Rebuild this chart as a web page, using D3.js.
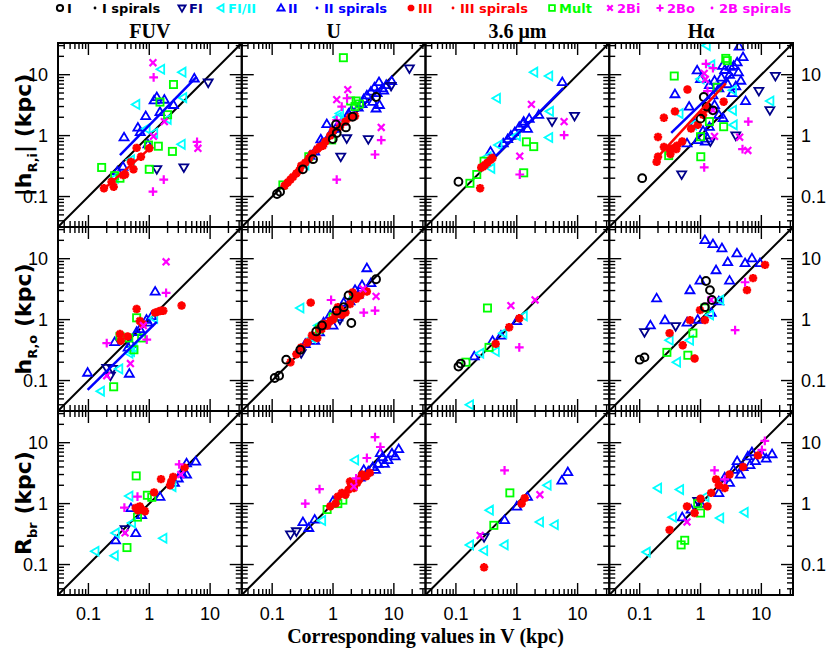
<!DOCTYPE html>
<html><head><meta charset="utf-8">
<script src="https://cdn.jsdelivr.net/npm/d3@7"></script>
<style>body{margin:0;background:#fff}svg{display:block}</style>
</head><body>
<svg id="c" width="830" height="651"></svg>
<script>
// ---------------- DATA ----------------
const bandNames = ["FUV", "U", "3.6 μm", "Hα"];
const rowTitleMain = ["|h", "h", "R"];
const rowTitleSub = ["R,i", "R,o", "br"];
const rowTitleTail = ["| (kpc)", " (kpc)", " (kpc)"];
const xTitle = "Corresponding values in V (kpc)";
const tickValues = [0.1, 1, 10];
const tickLabels = ["0.1", "1", "10"];
const legendKeys = ["I", "Isp", "FI", "FIII", "II", "IIsp", "III", "IIIsp", "Mult", "2Bi", "2Bo", "2Bsp"];
const legendLabels = ["I", "I spirals", "FI", "FI/II", "II", "II spirals", "III", "III spirals", "Mult", "2Bi", "2Bo", "2B spirals"];

// each point: [type, value in V (kpc), value in band (kpc)]
const hRi_FUV = [
 ["2Bi",1.15,15.7],["FIII",1.56,12.3],["2Bo",1.18,9.0],["FIII",3.5,11],["FI",9.3,7.4],["II",5.5,8.7],
 ["Mult",2.5,6.9],["II",1.33,4.3],["II",1.2,3.8],["II",1.77,3.9],["Mult",1.5,3.55],["FIII",0.61,3.25],
 ["FIII",3.6,4.2],["II",2.5,3.2],["II",1.5,2.45],["Mult",2.0,2.2],["II",0.875,2.1],["2Bi",1.77,1.7],
 ["FIII",2.0,1.85],["II",0.65,1.36],["II",0.385,0.94],["II",0.71,1.15],["FIII",0.9,1.3],["FIII",1.2,1.1],
 ["2Bi",1.17,0.97],["Mult",1.41,0.67],["Mult",0.97,0.7],["II",0.95,0.72],["FIII",3.4,0.72],["Mult",2.4,0.55],
 ["2Bo",6.1,0.79],["2Bi",6.3,0.62],["FI",3.7,0.30],["FI",1.33,0.28],["Mult",1.0,0.28],["Mult",0.165,0.30],
 ["2Bo",1.73,0.19],["2Bo",1.15,0.12],
 ["III",0.18,0.137],["III",0.24,0.175],["III",0.26,0.145],["III",0.37,0.225],["III",0.4,0.23],["III",0.5,0.37],
 ["III",0.55,0.28],["III",0.62,0.63],["III",0.73,0.45],["III",1.0,0.62],
 ["FIII",0.27,0.2],["FIII",0.5,0.4],["Mult",0.27,0.22],["Mult",0.33,0.2],["II",0.3,0.26],["II",0.37,0.31]
];
const hRi_U = [
 ["Mult",1.48,19],["FI",18,12.6],
 ["II",5.7,7.6],["II",9.2,7.9],["FI",9.0,6.5],["II",4.8,6.2],["II",6.5,6.0],["II",7.5,6.8],["II",4.2,5.3],
 ["II",5.3,5.0],["II",3.6,4.6],["II",6.8,5.5],["II",3.2,4.0],["II",4.5,3.6],["II",5.8,3.2],["II",3.0,3.3],
 ["II",2.6,2.9],["II",5.1,2.8],["I",5.1,4.3],["2Bi",1.75,5.7],["2Bi",1.15,3.9],["2Bo",1.7,4.1],["2Bo",1.39,3.0],
 ["Mult",1.95,3.7],["Mult",2.4,3.7],["Mult",2.7,3.3],["Mult",2.3,3.0],
 ["I",2.1,2.04],["FIII",1.3,2.3],["FIII",1.2,2.0],["2Bo",1.15,1.8],["II",0.79,1.55],["I",1.12,1.53],
 ["I",1.63,1.36],["I",1.15,1.1],["I",0.99,0.88],["II",0.63,0.87],["FI",1.68,0.9],["2Bi",6.2,1.36],
 ["2Bo",6.2,0.84],["FI",3.8,0.87],["2Bo",4.9,0.49],["FI",1.34,0.45],["I",0.47,0.41],["I",0.32,0.28],
 ["Mult",0.15,0.155],["I",0.135,0.12],["I",0.12,0.11],["2Bo",1.15,0.19],
 ["III",0.16,0.15],["III",0.18,0.17],["III",0.2,0.19],["III",0.22,0.21],["III",0.25,0.24],["III",0.28,0.27],
 ["III",0.3,0.32],["III",0.35,0.36],["III",0.4,0.42],["III",0.45,0.5],["III",0.55,0.6],["III",0.6,0.65],
 ["III",0.68,0.68],["III",0.75,0.8],["III",0.9,1.0],["III",1.0,1.2],["III",1.3,1.4],["III",1.6,1.7],
 ["III",1.9,2.0],["III",2.3,2.1],["II",0.5,0.55],["II",0.42,0.47],["II",0.65,0.75],["II",0.9,1.05],
 ["II",1.1,1.3],["II",1.4,1.7],["II",1.8,2.3],["II",2.0,2.6],["FIII",0.35,0.33],["Mult",0.95,0.85],["Mult",0.4,0.45]
];
const hRi_36 = [
 ["FIII",1.93,11],["FIII",3.4,9.5],["II",5.6,7.6],["FIII",0.47,4.1],["2Bi",1.74,3.25],["FIII",3.5,2.5],
 ["FI",3.8,1.7],["FI",8.9,2.1],["2Bi",6.0,1.7],["2Bo",6.0,1.02],["FIII",3.4,0.93],["Mult",1.44,0.79],
 ["Mult",1.9,0.66],["2Bi",1.12,0.46],["Mult",1.3,0.245],["2Bo",1.12,0.23],["FIII",0.38,0.29],["Mult",0.29,0.38],
 ["Mult",0.22,0.23],["Mult",0.17,0.165],["I",0.11,0.175],["III",0.25,0.137],
 ["III",0.26,0.3],["III",0.3,0.33],["III",0.33,0.36],["III",0.37,0.4],["III",0.4,0.43],["III",0.28,0.31],
 ["II",0.37,0.55],["II",0.71,0.88],["II",0.93,1.15],["II",1.27,1.58],["II",1.5,1.3],["II",2.3,2.2],
 ["II",1.1,1.4],["II",1.3,1.7],["II",0.6,0.75],["II",0.8,1.0],["II",1.6,1.9],
 ["FIII",0.5,0.7],["FIII",1.0,1.0],["FIII",0.33,0.45]
];
const hRi_Ha = [
 ["FIII",1.26,30],["II",4.3,29],["Mult",2.6,18.5],["Mult",2.75,17],["II",5.0,19.5],["II",2.3,14],
 ["2Bo",1.23,15],["2Bo",1.6,12.8],["FIII",1.5,14.5],["II",0.88,11.8],["2Bi",1.15,10.5],["II",1.0,8.5],
 ["2Bi",1.2,8.4],["2Bo",1.3,5.4],["Mult",0.37,9.5],["FIII",1.0,8.5],
 ["II",2.5,12],["II",3.0,10],["II",3.5,14],["II",4.2,11],["II",4.6,8],["II",2.2,9],["II",2.8,7],["II",3.8,6.5],
 ["II",1.7,8],["II",2.0,6],["II",1.4,6.8],["II",1.6,4.6],["II",3.1,13.5],["II",4.0,16],["II",3.3,5],
 ["FI",17,9.5],["FI",9.1,5.4],["FIII",3.4,5.55],["II",5.5,3.7],["FIII",14,3.7],["FI",13.8,2.6],
 ["III",0.61,5.7],["II",0.38,4.8],["I",1.13,4.3],["II",0.65,3.0],["III",0.38,2.5],["FIII",0.45,2.3],
 ["III",0.25,1.96],["III",2.4,3.6],["I",1.26,3.0],["2Bi",1.6,2.6],["I",1.6,2.6],["I",1.0,1.9],["Mult",1.88,6.2],
 ["Mult",1.4,1.7],["Mult",2.4,1.4],["II",2.35,1.95],["FIII",3.4,2.6],["FIII",3.5,1.5],["2Bo",6.1,1.7],
 ["FI",3.8,1.0],["2Bi",4.4,0.94],["2Bo",4.9,0.6],["2Bi",6.0,0.57],["Mult",1.0,0.96],["2Bi",1.7,0.97],
 ["Mult",1.01,0.45],["2Bo",1.15,0.30],["FI",0.49,0.23],["I",0.11,0.20],
 ["III",0.2,0.95],["III",0.25,0.65],["III",0.2,0.45],["III",0.19,0.37],["III",0.31,0.6],["III",0.36,0.62],
 ["III",0.4,0.6],["III",0.41,0.68],["III",0.32,0.5],["III",0.5,0.8],["III",0.7,1.3],["III",1.1,2.2],
 ["III",1.3,2.8],["III",0.9,1.5],["Mult",0.3,0.47],["II",0.9,0.85],["II",1.2,0.8],["II",1.3,0.9],
 ["FI",1.45,0.8],["II",0.6,0.75],["II",1.1,1.2],["II",1.4,1.4],["II",0.8,1.6],["II",2.0,2.2],["II",1.7,3.2],["FIII",0.75,1.5]
];
const hRo_FUV = [
 ["2Bi",1.89,8.9],["II",1.25,2.9],["2Bo",1.89,2.75],["III",3.4,1.7],["III",0.62,1.49],["III",1.25,1.3],
 ["III",1.4,1.35],["III",1.55,1.4],["III",1.7,1.4],["Mult",0.62,1.07],["III",0.7,0.95],["III",0.78,0.85],
 ["2Bi",0.8,0.8],["II",0.9,1.0],["II",0.95,0.9],["II",0.62,0.63],["2Bo",0.91,0.47],["Mult",0.75,0.5],
 ["III",0.33,0.58],["Mult",0.33,0.53],["III",0.34,0.45],["III",0.44,0.53],["2Bo",0.2,0.41],["II",0.27,0.43],
 ["Mult",0.46,0.5],["Mult",0.56,0.32],["FIII",0.47,0.28],["FIII",0.5,0.3],["II",0.45,0.35],["II",0.5,0.4],
 ["2Bi",0.49,0.19],["FIII",0.32,0.155],["II",0.47,0.13],["2Bi",0.2,0.12],["FI",0.2,0.16],["FI",0.25,0.155],
 ["FI",0.23,0.12],["II",0.097,0.135],["FIII",0.16,0.067],["Mult",0.26,0.079],["II",0.7,0.7],["II",1.1,1.15],
 ["FIII",1.2,1.05],["FIII",0.55,0.35]
];
const hRo_U = [
 ["I",5.1,4.6],["I",1.8,2.5],["I",1.15,1.4],["I",1.5,1.6],["I",0.66,0.8],["I",0.53,0.64],["I",0.29,0.32],
 ["I",0.17,0.22],["I",0.13,0.12],["I",0.11,0.11],["I",2.0,0.88],
 ["III",0.3,0.35],["III",0.45,0.55],["III",0.65,0.7],["III",0.8,0.8],["III",1.3,1.5],["III",2.4,2.2],
 ["III",2.1,2.8],["III",0.43,1.9],["III",3.6,2.9],["III",1.0,1.0],["III",1.6,1.3],["III",0.2,0.2],["III",0.25,0.27],
 ["III",0.38,0.42],["III",0.55,0.5],["III",0.7,0.85],["III",0.9,0.95],["III",1.1,1.2],["III",1.4,1.2],
 ["III",1.9,1.8],["III",2.8,2.5],["III",1.2,1.6],["III",0.6,0.7],
 ["II",2.3,3.1],["II",3.0,3.7],["II",3.6,7],["II",0.5,0.45],["II",0.9,1.2],["II",1.2,1.1],["II",1.9,2.0],
 ["II",0.7,0.9],["II",0.35,0.4],["II",1.5,1.9],["II",2.6,2.6],["II",4.2,4.0],["II",0.6,0.62],["II",1.0,0.8],
 ["FI",0.3,0.28],["FI",1.3,1.0],
 ["2Bi",3.1,3.2],["2Bi",5.1,2.4],["2Bo",3.2,1.3],["2Bo",4.9,1.4],
 ["2Bo",0.93,2.1],["FIII",0.29,1.55],["FIII",0.57,0.8],["FIII",0.45,0.5],["Mult",1.0,1.1],["Mult",0.6,0.7],["Mult",2.2,2.3]
];
const hRo_36 = [
 ["Mult",0.33,1.55],["2Bi",0.8,1.7],["II",1.0,0.95],["III",1.1,1.05],["FIII",1.3,1.15],["III",0.75,0.75],
 ["FIII",0.6,0.6],["II",0.55,0.55],["Mult",0.35,0.35],["FIII",0.25,0.28],["II",0.2,0.25],["I",0.11,0.17],
 ["I",0.12,0.19],["Mult",0.146,0.2],["FIII",0.17,0.04],["2Bo",1.1,0.35],["2Bi",2.0,2.1],["III",0.45,0.4],
 ["II",0.4,0.45],["FIII",0.45,0.3]
];
const hRo_Ha = [
 ["II",1.18,20.3],["II",1.6,17.4],["II",2.25,14.9],["II",3.97,12.3],["II",5.4,8.5],["II",7.0,10.2],["II",2.8,8.8],
 ["II",1.8,6.5],["II",9.5,8.5],["II",3.0,4.4],["II",0.67,3.05],["II",0.98,4.4],["II",0.15,0.81],["II",0.19,2.25],
 ["II",0.26,0.98],["II",1.5,1.3],["II",2.0,2.0],["II",0.9,1.0],["II",0.6,0.9],
 ["III",11.5,7.9],["III",7.3,4.8],["III",5.8,3.05],["III",0.98,1.43],["III",1.18,0.98],["III",0.67,0.98],
 ["III",0.31,0.6],["III",0.51,0.38],["III",0.8,0.23],
 ["FI",0.12,0.62],["FI",0.39,0.78],
 ["I",0.1,0.22],["I",0.12,0.24],["I",1.23,4.3],["I",1.43,3.05],["I",1.54,2.1],["I",1.18,1.6],
 ["Mult",0.75,0.6],["Mult",0.62,0.26],["Mult",0.28,0.29],["Mult",1.18,1.55],
 ["FIII",0.31,0.46],["FIII",0.41,0.2],["FIII",0.67,0.46],["FIII",1.43,1.19],["FIII",2.1,2.1],
 ["2Bo",5.4,4.1],["2Bo",3.7,0.67],["2Bi",1.48,2.1]
];
const Rbr_FUV = [
 ["II",5.8,4.9],["II",4.1,4.6],["2Bo",3.1,4.4],["III",3.8,3.9],["II",4.1,3.0],["II",3.4,3.2],["2Bi",3.3,3.0],
 ["III",2.47,2.75],["III",2.3,2.3],["III",2.2,2.0],["III",1.56,2.52],["FIII",2.4,1.9],["Mult",0.61,2.85],
 ["III",1.2,1.53],["II",1.5,1.3],["Mult",0.93,1.37],["Mult",1.1,1.27],["2Bo",0.64,1.3],["FIII",0.47,1.33],
 ["III",0.6,0.85],["III",0.7,0.9],["III",0.75,0.8],["III",0.85,0.75],["III",0.65,0.78],["II",0.5,0.85],
 ["II",0.75,0.65],["2Bo",0.39,0.86],["Mult",0.64,0.6],["FIII",0.52,0.48],["II",0.6,0.33],["FI",0.4,0.38],
 ["2Bi",0.4,0.33],["FIII",0.28,0.33],["II",0.28,0.25],["FIII",0.13,0.165],["FIII",0.27,0.14],["Mult",0.43,0.19],
 ["FIII",1.7,0.27],["II",2.6,2.2],["II",3.0,2.6]
];
const Rbr_U = [
 ["II",12,7.9],["II",9.3,6.7],["II",8,5.2],["II",6.5,5.8],["II",5.5,4.5],["II",4.5,4.0],["II",7,4.5],
 ["II",10.5,6.0],["II",6.0,6.8],["II",3.8,3.4],["II",5.0,3.6],["II",2.8,2.7],
 ["2Bo",4.9,12.3],["2Bo",6.0,8.5],["2Bo",3.6,5.6],["2Bo",0.35,1.0],["2Bo",2.4,2.6],["2Bo",0.6,1.73],
 ["III",1.6,1.4],["III",2.0,2.0],["III",2.5,2.2],["III",3.0,3.0],["III",3.5,2.8],["III",1.8,1.7],["III",1.2,1.3],
 ["III",0.9,0.9],["III",2.2,1.8],["III",1.4,1.5],["III",2.7,2.5],["III",1.9,2.3],["III",4.0,3.2],["III",1.1,1.0],
 ["FIII",0.66,0.53],["Mult",1.45,1.14],["Mult",1.2,1.0],["FI",0.2,0.31],["II",0.32,0.5],["FIII",2.3,5.2],
 ["II",1.0,1.1],["II",0.5,0.55],["II",0.4,0.4],["2Bi",2.2,1.9],["Mult",0.8,0.8],["II",3.2,3.6],["FI",0.25,0.35]
];
const Rbr_36 = [
 ["II",6.9,3.3],["II",5.5,2.4],["FIII",3.2,2.0],["2Bo",0.63,3.5],["2Bi",2.4,1.4],["Mult",0.77,1.5],
 ["III",1.35,1.23],["III",1.2,1.0],["FIII",0.36,0.78],["Mult",0.42,0.44],["II",0.63,0.54],["FIII",2.4,0.5],
 ["FIII",4.2,0.45],["FIII",0.17,0.21],["FIII",0.63,0.21],["FIII",0.29,0.17],["FI",0.29,0.28],["III",0.29,0.09],
 ["II",1.5,1.3],["2Bi",0.25,0.3],["II",1.0,0.9]
];
const Rbr_Ha = [
 ["2Bo",11.4,10.7],["2Bo",10.2,7.6],["II",6,6],["II",8,5],["II",10,6.5],["II",5,4],["II",12,5.5],["II",4.5,3],
 ["II",15,6.5],["II",7,7],["II",3.5,3.6],["II",6.5,4.3],["II",2.5,2.7],["II",4,5],
 ["III",8.8,6.2],["III",5,4],["III",3,3],["III",2,2],["III",1.5,1.5],["III",1,1.2],["III",0.8,0.7],["III",1.3,0.9],
 ["III",2.5,1.8],["III",0.6,0.9],["III",1.8,2.5],
 ["FIII",0.46,1.7],["FIII",0.2,1.8],["FIII",0.13,0.16],["Mult",0.48,0.21],["Mult",0.55,0.25],
 ["III",0.31,0.37],["2Bo",1.7,3.5],["2Bo",2.5,2.5],["FIII",5.3,0.72],["FIII",2.1,0.58],["II",1.0,1.0],
 ["II",0.5,0.6],["II",0.7,0.8],["FI",0.9,1.1],["2Bi",0.6,0.5],["Mult",1.0,0.7],["II",2,1.5],["II",3,2.2],
 ["FIII",0.35,0.6],["FIII",1.2,1.3],["Mult",0.9,1.0]
];

// fit lines: [type, x1, y1, x2, y2]
const fit_hRi_FUV = [["II",0.33,0.48,6.0,9.2],["III",0.19,0.14,1.1,0.66]];
const fit_hRi_U = [];
const fit_hRi_36 = [["II",0.45,0.46,5.8,6.0],["III",0.25,0.28,0.45,0.46]];
const fit_hRi_Ha = [["II",0.33,1.11,3.4,10.5],["III",0.195,0.44,2.6,7.2]];
const fit_hRo_FUV = [["II",0.097,0.07,1.33,0.92]];
const fit_hRo_U = [];
const fit_hRo_36 = [];
const fit_hRo_Ha = [];
const fit_Rbr_FUV = [];
const fit_Rbr_U = [];
const fit_Rbr_36 = [];
const fit_Rbr_Ha = [];

// ---------------- DRAW ----------------
const panels = [
 [hRi_FUV, hRi_U, hRi_36, hRi_Ha],
 [hRo_FUV, hRo_U, hRo_36, hRo_Ha],
 [Rbr_FUV, Rbr_U, Rbr_36, Rbr_Ha]
];
const fits = [
 [fit_hRi_FUV, fit_hRi_U, fit_hRi_36, fit_hRi_Ha],
 [fit_hRo_FUV, fit_hRo_U, fit_hRo_36, fit_hRo_Ha],
 [fit_Rbr_FUV, fit_Rbr_U, fit_Rbr_36, fit_Rbr_Ha]
];

const L = 58, T = 43, PW = 183.75, PH = 184;
const dom = [Math.pow(10, -1.5), Math.pow(10, 1.52)];
const colors = {I:"#000000",Isp:"#000000",FI:"#00008b",FIII:"#00ffff",II:"#0000ff",IIsp:"#0000ff",
  III:"#ff0000",IIIsp:"#ff0000",Mult:"#00ff00","2Bi":"#ff00ff","2Bo":"#ff00ff","2Bsp":"#ff00ff"};
const order = {II:0,FI:1,FIII:2,Mult:3,III:4,"2Bi":5,"2Bo":6,I:7,IIsp:8,IIIsp:9,Isp:10,"2Bsp":11};

const svg = d3.select("#c");
svg.append("rect").attr("width",830).attr("height",651).attr("fill","#fff");

function marker(g, type, x, y, k) {
  const c = colors[type], s = 4.5 * k;
  if (type === "I") {
    g.append("circle").attr("cx",x).attr("cy",y).attr("r",3.9*k).attr("fill","none").attr("stroke",c).attr("stroke-width",2);
  } else if (type === "FI") {
    g.append("path").attr("d",`M${x-s},${y-s*0.7}L${x+s},${y-s*0.7}L${x},${y+s}Z`).attr("fill","none").attr("stroke",c).attr("stroke-width",1.8);
  } else if (type === "II") {
    g.append("path").attr("d",`M${x-s},${y+s*0.7}L${x+s},${y+s*0.7}L${x},${y-s}Z`).attr("fill","none").attr("stroke",c).attr("stroke-width",1.8);
  } else if (type === "FIII") {
    g.append("path").attr("d",`M${x+s*0.7},${y-s}L${x+s*0.7},${y+s}L${x-s},${y}Z`).attr("fill","none").attr("stroke",c).attr("stroke-width",1.8);
  } else if (type === "Mult") {
    const h = 3.6 * k;
    g.append("rect").attr("x",x-h).attr("y",y-h).attr("width",2*h).attr("height",2*h).attr("fill","none").attr("stroke",c).attr("stroke-width",1.8);
  } else if (type === "III") {
    const a = 4.2 * k, d = a * 0.72;
    g.append("path").attr("d",`M${x-a},${y}L${x+a},${y}M${x},${y-a}L${x},${y+a}M${x-d},${y-d}L${x+d},${y+d}M${x-d},${y+d}L${x+d},${y-d}`)
      .attr("stroke",c).attr("stroke-width",2.6).attr("fill","none");
  } else if (type === "2Bi") {
    const a = 3.4 * k;
    g.append("path").attr("d",`M${x-a},${y-a}L${x+a},${y+a}M${x-a},${y+a}L${x+a},${y-a}`).attr("stroke",c).attr("stroke-width",2.2);
  } else if (type === "2Bo") {
    const a = 4.4 * k;
    g.append("path").attr("d",`M${x-a},${y}L${x+a},${y}M${x},${y-a}L${x},${y+a}`).attr("stroke",c).attr("stroke-width",2.2);
  } else {
    g.append("circle").attr("cx",x).attr("cy",y).attr("r",1.8*k).attr("fill",c);
  }
}

const tickVals = [];
for (let e = -2; e <= 1; e++) for (let m = 1; m <= 9; m++) {
  const v = m * Math.pow(10, e);
  if (v >= dom[0] && v <= dom[1]) tickVals.push({v, major: m === 1});
}

const defs = svg.append("defs");
for (let r = 0; r < 3; r++) {
  for (let c = 0; c < 4; c++) {
    const x0 = L + c * PW, y0 = T + r * PH;
    const xs = d3.scaleLog().domain(dom).range([x0, x0 + PW]);
    const ys = d3.scaleLog().domain(dom).range([y0 + PH, y0]);
    const id = `clip${r}${c}`;
    defs.append("clipPath").attr("id", id).append("rect").attr("x", x0).attr("y", y0).attr("width", PW).attr("height", PH);
    const g = svg.append("g");
    const pg = g.append("g").attr("clip-path", `url(#${id})`);
    pg.append("line").attr("x1", xs(dom[0])).attr("y1", ys(dom[0])).attr("x2", xs(dom[1])).attr("y2", ys(dom[1]))
      .attr("stroke", "#000").attr("stroke-width", 2);
    const pts = panels[r][c].slice().sort((a, b) => order[a[0]] - order[b[0]]);
    pts.forEach(p => marker(pg, p[0], xs(p[1]), ys(p[2]), 1));
    fits[r][c].forEach(f => {
      pg.append("line").attr("x1", xs(f[1])).attr("y1", ys(f[2])).attr("x2", xs(f[3])).attr("y2", ys(f[4]))
        .attr("stroke", colors[f[0]]).attr("stroke-width", 2.5);
    });
    tickVals.forEach(t => {
      const len = t.major ? 12 : 6;
      const px = xs(t.v), py = ys(t.v);
      g.append("line").attr("x1", px).attr("x2", px).attr("y1", y0 + PH).attr("y2", y0 + PH - len).attr("stroke", "#000").attr("stroke-width", 1.4);
      g.append("line").attr("x1", px).attr("x2", px).attr("y1", y0).attr("y2", y0 + len).attr("stroke", "#000").attr("stroke-width", 1.4);
      g.append("line").attr("y1", py).attr("y2", py).attr("x1", x0).attr("x2", x0 + len).attr("stroke", "#000").attr("stroke-width", 1.4);
      g.append("line").attr("y1", py).attr("y2", py).attr("x1", x0 + PW).attr("x2", x0 + PW - len).attr("stroke", "#000").attr("stroke-width", 1.4);
    });
    g.append("rect").attr("x", x0).attr("y", y0).attr("width", PW).attr("height", PH).attr("fill", "none").attr("stroke", "#000").attr("stroke-width", 2);

    if (r === 2) {
      tickValues.forEach((v, i) => {
        svg.append("text").attr("x", xs(v)).attr("y", 620).attr("text-anchor", "middle")
          .attr("font-family", "Liberation Sans, Arial, sans-serif").attr("font-size", 18).text(tickLabels[i]);
      });
    }
    if (c === 0) {
      tickValues.forEach((v, i) => {
        svg.append("text").attr("x", 48).attr("y", ys(v)).attr("dy", "0.36em").attr("text-anchor", "end")
          .attr("font-family", "Liberation Sans, Arial, sans-serif").attr("font-size", 18).text(tickLabels[i]);
      });
    }
    if (c === 3) {
      tickValues.forEach((v, i) => {
        svg.append("text").attr("x", 801).attr("y", ys(v)).attr("dy", "0.36em").attr("text-anchor", "start")
          .attr("font-family", "Liberation Sans, Arial, sans-serif").attr("font-size", 18).text(tickLabels[i]);
      });
    }
    if (r === 0) {
      svg.append("text").attr("x", x0 + PW / 2).attr("y", 38).attr("text-anchor", "middle")
        .attr("font-family", "Liberation Serif, Times New Roman, serif").attr("font-weight", "bold").attr("font-size", 20)
        .text(bandNames[c]);
    }
  }
  const cy = T + r * PH + PH / 2;
  const tt = svg.append("text").attr("transform", `translate(31,${cy}) rotate(-90)`).attr("text-anchor", "middle")
    .attr("font-family", "DejaVu Sans, sans-serif").attr("font-weight", "bold").attr("font-size", 22);
  tt.append("tspan").text(rowTitleMain[r]);
  tt.append("tspan").attr("font-size", 13).attr("dy", 6).text(rowTitleSub[r]);
  tt.append("tspan").attr("dy", -6).text(rowTitleTail[r]);
}

svg.append("text").attr("x", L + 2 * PW).attr("y", 643).attr("text-anchor", "middle")
  .attr("font-family", "Liberation Serif, Times New Roman, serif").attr("font-weight", "bold").attr("font-size", 20).text(xTitle);

const legendMarkX = [60, 95, 182, 221, 281, 317, 411, 453, 552, 610, 660, 712];
const lg = svg.append("g");
legendKeys.forEach((k, i) => {
  marker(lg, k, legendMarkX[i], 8, 0.8);
  lg.append("text").attr("x", legendMarkX[i] + 7).attr("y", 13)
    .attr("font-family", "DejaVu Sans, sans-serif").attr("font-weight", "bold").attr("font-size", 13)
    .attr("fill", colors[k]).text(legendLabels[i]);
});
</script>
</body></html>
